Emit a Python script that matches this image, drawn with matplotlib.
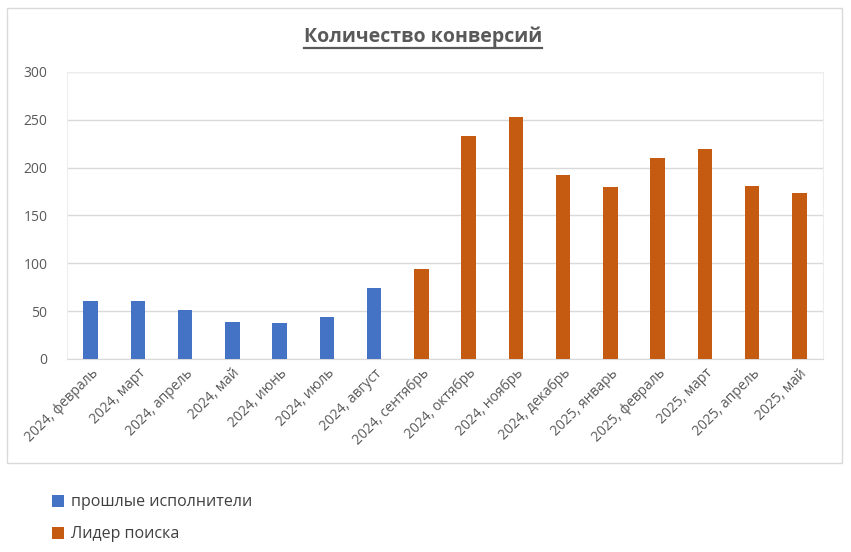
import matplotlib
matplotlib.use('Agg')
import matplotlib.pyplot as plt
from matplotlib.patches import Rectangle, Patch
from matplotlib.lines import Line2D
import numpy as np

plt.rcParams['font.family'] = ['Open Sans', 'DejaVu Sans']

# data
months = ['2024, февраль', '2024, март', '2024, апрель', '2024, май', '2024, июнь',
          '2024, июль', '2024, август', '2024, сентябрь', '2024, октябрь', '2024, ноябрь',
          '2024, декабрь', '2025, январь', '2025, февраль', '2025, март', '2025, апрель',
          '2025, май']
past_performers = [61, 61, 51, 39, 38, 44, 74, 0, 0, 0, 0, 0, 0, 0, 0, 0]
search_leader = [0, 0, 0, 0, 0, 0, 0, 94, 233, 253, 192, 180, 210, 219, 181, 173]
series_names = ['прошлые исполнители', 'Лидер поиска']

blue = '#4472C4'
orange = '#C55A11'
text_gray = '#595959'
grid_gray = '#D9D9D9'

W, H = 851, 552
fig = plt.figure(figsize=(W / 100, H / 100), dpi=100)
fig.patch.set_facecolor('white')

# outer chart border
fig.add_artist(Rectangle((7 / W, 1 - 463 / H), (842 - 7) / W, (463 - 8) / H,
                         transform=fig.transFigure, fill=False,
                         edgecolor='#D9D9D9', linewidth=1))

ax = fig.add_axes([67 / W, 1 - 359 / H, (823 - 67) / W, (359 - 72) / H])
x = np.arange(len(months))
# bars of both series overlap in each category (only one is non-zero)
ax.bar(x, past_performers, width=0.31, color=blue, zorder=3)
ax.bar(x, search_leader, width=0.31, color=orange, zorder=3)

ax.set_xlim(-0.5, len(months) - 0.5)
ax.set_ylim(0, 300)
ax.set_yticks(range(0, 301, 50))
ax.yaxis.grid(True, color=grid_gray, linewidth=1, zorder=0)
ax.set_axisbelow(True)

for side in ['top', 'right', 'left']:
    ax.spines[side].set_color('#EDEDED')
ax.spines['bottom'].set_color(grid_gray)
ax.tick_params(axis='both', length=0, colors=text_gray, labelsize=10)
ax.tick_params(axis='y', pad=14)

ax.set_xticks(x)
ax.set_xticklabels(months, rotation=45, ha='right', rotation_mode='anchor')
ax.tick_params(axis='x', pad=5)

# title, underlined
title = fig.text(423 / W, 1 - 37 / H, 'Количество конверсий', ha='center', va='center',
                 fontsize=14, fontweight='bold', color=text_gray)
fig.canvas.draw()
bb = title.get_window_extent().transformed(fig.transFigure.inverted())
fig.add_artist(Line2D([bb.x0, bb.x1], [bb.y0 - 1 / H, bb.y0 - 1 / H],
                      transform=fig.transFigure, color=text_gray, linewidth=1.6))

handles = [Patch(facecolor=blue), Patch(facecolor=orange)]
fig.legend(handles, series_names, loc='upper left',
           bbox_to_anchor=(38 / W, 1 - 480 / H), frameon=False,
           fontsize=11.5, labelcolor='#404040', handlelength=0.75, handleheight=0.75,
           handletextpad=0.4, labelspacing=1.0)

fig.savefig('out.png', dpi=100, facecolor='white')
